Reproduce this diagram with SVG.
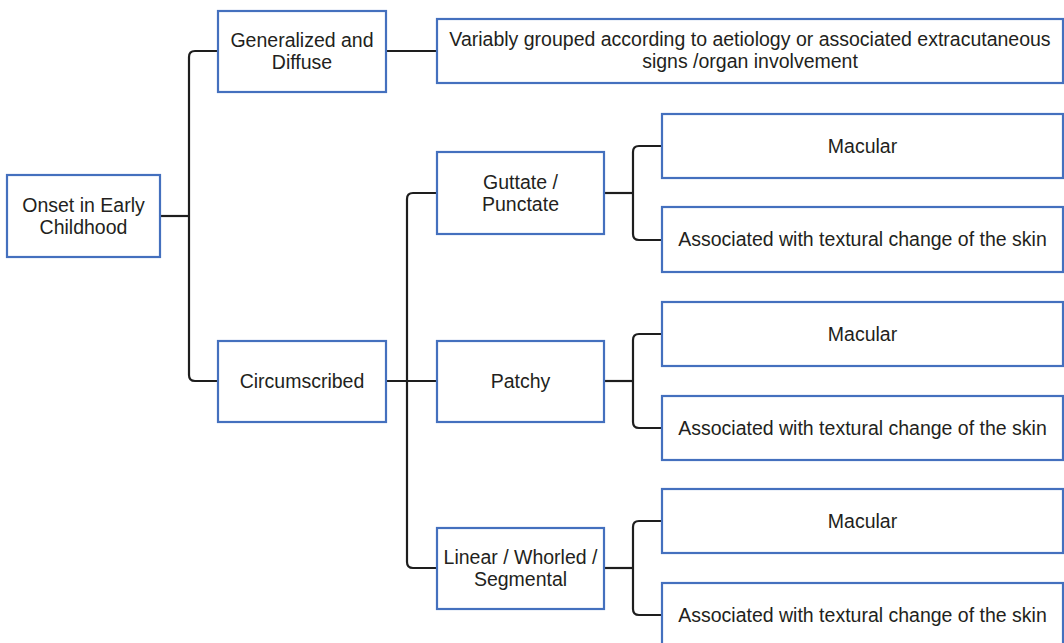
<svg xmlns="http://www.w3.org/2000/svg" width="1064" height="643" viewBox="0 0 1064 643">
<style>
.box{fill:#fff;stroke:#4470be;stroke-width:2.2}
.t{font-family:"Liberation Sans",Arial,sans-serif;font-size:19.5px;fill:#231f20;text-anchor:middle}
.c{fill:none;stroke:#1e1e1e;stroke-width:2.2}
</style>
<rect width="1064" height="643" fill="#fff"/>
<g id="connectors">
<path class="c" d="M160 216H189"/>
<path class="c" d="M218 51H195Q189 51 189 57V375Q189 381 195 381H218"/>
<path class="c" d="M386 381H437"/>
<path class="c" d="M437 193H413Q407 193 407 199V562Q407 568 413 568H437"/>
<path class="c" d="M386 51H437"/>
<path class="c" d="M604 193H633"/>
<path class="c" d="M662 146H639Q633 146 633 152V234Q633 240 639 240H662"/>
<path class="c" d="M604 381H633"/>
<path class="c" d="M662 334H639Q633 334 633 340V422Q633 428 639 428H662"/>
<path class="c" d="M604 568H633"/>
<path class="c" d="M662 521H639Q633 521 633 527V609Q633 615 639 615H662"/>
</g>
<g id="onset"><rect class="box" x="7" y="175" width="153" height="82"/><text class="t" x="83.5" y="212">Onset in Early</text><text class="t" x="83.5" y="234">Childhood</text></g>
<g id="generalized"><rect class="box" x="218" y="11" width="168" height="81"/><text class="t" x="302" y="47">Generalized and</text><text class="t" x="302" y="69">Diffuse</text></g>
<g id="circumscribed"><rect class="box" x="218" y="341" width="168" height="81"/><text class="t" x="302" y="388">Circumscribed</text></g>
<g id="variably"><rect class="box" x="437" y="19" width="626" height="64"/><text class="t" x="750" y="46">Variably grouped according to aetiology or associated extracutaneous</text><text class="t" x="750" y="68">signs /organ involvement</text></g>
<g id="guttate"><rect class="box" x="437" y="152" width="167" height="82"/><text class="t" x="520.5" y="189">Guttate /</text><text class="t" x="520.5" y="211">Punctate</text></g>
<g id="patchy"><rect class="box" x="437" y="341" width="167" height="81"/><text class="t" x="520.5" y="388">Patchy</text></g>
<g id="linear"><rect class="box" x="437" y="528" width="167" height="81"/><text class="t" x="520.5" y="564">Linear / Whorled /</text><text class="t" x="520.5" y="586">Segmental</text></g>
<g id="macular1"><rect class="box" x="662" y="114" width="401" height="64"/><text class="t" x="862.5" y="153">Macular</text></g>
<g id="assoc1"><rect class="box" x="662" y="207" width="401" height="65"/><text class="t" x="862.5" y="246">Associated with textural change of the skin</text></g>
<g id="macular2"><rect class="box" x="662" y="302" width="401" height="64"/><text class="t" x="862.5" y="341">Macular</text></g>
<g id="assoc2"><rect class="box" x="662" y="396" width="401" height="64"/><text class="t" x="862.5" y="435">Associated with textural change of the skin</text></g>
<g id="macular3"><rect class="box" x="662" y="489" width="401" height="64"/><text class="t" x="862.5" y="528">Macular</text></g>
<g id="assoc3"><rect class="box" x="662" y="583" width="401" height="64"/><text class="t" x="862.5" y="622">Associated with textural change of the skin</text></g>
</svg>
